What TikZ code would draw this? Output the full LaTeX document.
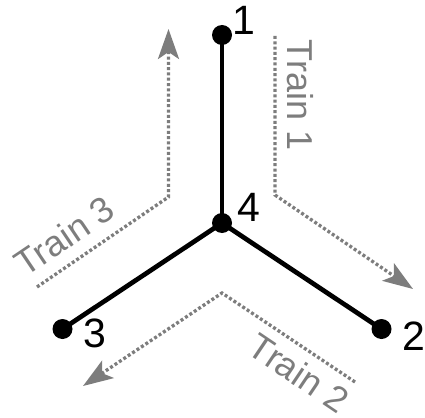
\documentclass[tikz,border=0pt]{standalone}
\usepackage{fontspec}
\setmainfont{Liberation Sans}
\usetikzlibrary{arrows.meta}
\definecolor{traingray}{RGB}{125,125,125}
\tikzset{
  stn/.style={circle,fill=black,inner sep=0pt,minimum size=20pt},
  lbl/.style={inner sep=0pt,font=\fontsize{41}{41}\selectfont},
  track/.style={line width=4.7pt,black},
  route/.style={traingray,line width=3.3pt,dash pattern=on 3pt off 2.3pt,
    -{Stealth[length=30pt,width=21pt,inset=7pt,sep=0pt]}},
  rlbl/.style={inner sep=0pt,text=traingray,font=\fontsize{36}{36}\selectfont}
}
\begin{document}
\begin{tikzpicture}[x=1pt,y=-1pt]
\useasboundingbox (0,0) rectangle (425,417);
% stations
\node[stn] (n1) at (222,35) {};
\node[stn] (n4) at (222,223) {};
\node[stn] (n2) at (381.5,329) {};
\node[stn] (n3) at (62.5,329) {};
\draw[track] (n1.center) -- (n4.center);
\draw[track] (n4.center) -- (n2.center);
\draw[track] (n4.center) -- (n3.center);
\node[lbl] (l1) at (244,20) {1};
\node[lbl] (l4) at (249,207) {4};
\node[lbl] (l2) at (414,336) {2};
\node[lbl] (l3) at (95,333) {3};
% train routes
\coordinate (a1) at (275,36);
\coordinate (b1) at (275,195);
\coordinate (c1) at (413,289);
\draw[route] (a1) -- (b1) -- (c1);
\coordinate (a2) at (355,382);
\coordinate (b2) at (222,293);
\coordinate (c2) at (83,386);
\draw[route] (a2) -- (b2) -- (c2);
\coordinate (a3) at (37,287);
\coordinate (b3) at (168.5,197);
\coordinate (c3) at (168.5,29);
\draw[route] (a3) -- (b3) -- (c3);
\node[rlbl,rotate=-90] (t1) at (300,95) {Train 1};
\node[rlbl,rotate=-34] (t2) at (299,373) {Train 2};
\node[rlbl,rotate=34] (t3) at (64.5,236) {Train 3};
\end{tikzpicture}
\end{document}
